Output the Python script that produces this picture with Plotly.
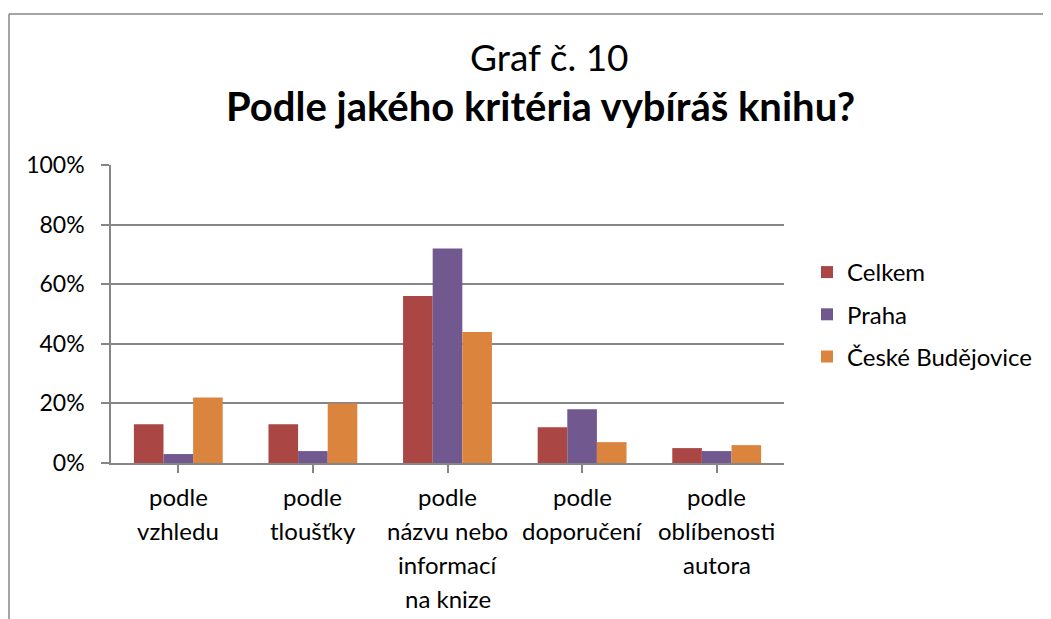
import plotly.graph_objects as go

categories = ["podle\nvzhledu", "podle\ntloušťky", "podle\nnázvu nebo\ninformací\nna knize",
              "podle\ndoporučení", "podle\noblíbenosti\nautora"]
series_names = ["Celkem", "Praha", "České Budějovice"]
celkem = [0.13, 0.13, 0.56, 0.12, 0.05]
praha = [0.03, 0.04, 0.72, 0.18, 0.04]
cb = [0.22, 0.20, 0.44, 0.07, 0.06]
colors = ["#AA4644", "#71588F", "#DB843D"]
y_ticks = [0, 0.2, 0.4, 0.6, 0.8, 1.0]

FONT = "Lato"
OFF = 8  # page body margin
W, H = 1051 - OFF, 619 - OFF
PL, PR, PT, PB = 111, 784, 165, 463  # plot area in page pixels
L, T = PL - OFF, PT - OFF
R, B = W - (PR - OFF), H - (PB - OFF)
pw, ph = PR - PL, PB - PT

def px(xp):
    return (xp - PL) / pw

def py(yp):
    return (PB - yp) / ph

cat_ids = list(range(len(categories)))

fig = go.Figure()
for name, vals, col in zip(series_names, [celkem, praha, cb], colors):
    fig.add_trace(go.Bar(x=cat_ids, y=vals, name=name, legendgroup=name,
                         marker=dict(color=col, line=dict(width=0))))

fig.update_layout(
    width=W, height=H,
    margin=dict(l=L, r=R, t=T, b=B, pad=0),
    paper_bgcolor="white", plot_bgcolor="white",
    barmode="group", bargap=0.34, bargroupgap=0,
    font=dict(family=FONT, size=24, color="black"),
    showlegend=True,
    legend=dict(x=px(807), y=py(250), xanchor="left", yanchor="top",
                font=dict(size=24), tracegroupgap=8, itemwidth=30),
)
fig.update_xaxes(
    range=[-0.5, len(categories) - 0.5],
    tickvals=cat_ids, ticktext=[""] * len(categories), tickson="boundaries",
    showline=True, linecolor="#868686", linewidth=1.5,
    ticks="outside", ticklen=8, tickcolor="#868686", tickwidth=1.5,
    showgrid=False, zeroline=False,
)
fig.update_yaxes(
    range=[0, 1], tickvals=y_ticks, tickformat=".0%",
    showline=True, linecolor="#868686", linewidth=1.5,
    ticks="outside", ticklen=8, tickcolor="#868686", tickwidth=1.5,
    showgrid=True, gridcolor="#868686", gridwidth=1.5, zeroline=False,
    ticklabelstandoff=12, tickfont=dict(size=23),
)

annotations = []
for i, lab in enumerate(categories):
    for j, line in enumerate(lab.split("\n")):
        annotations.append(dict(x=i, y=0, xref="x", yref="paper", text=line, showarrow=False,
                                xanchor="center", yanchor="middle", yshift=-(33 + 34 * j),
                                font=dict(size=24, family=FONT)))
annotations.append(dict(x=px(549), y=py(56), xref="paper", yref="paper", text="Graf č. 10",
                        showarrow=False, xanchor="center", yanchor="middle",
                        font=dict(size=37, family=FONT)))
annotations.append(dict(x=px(540), y=py(106), xref="paper", yref="paper",
                        text="<b>Podle jakého kritéria vybíráš knihu?</b>",
                        showarrow=False, xanchor="center", yanchor="middle",
                        font=dict(size=40, family=FONT)))
fig.update_layout(annotations=annotations)

bx0 = px(9)
by1 = py(14)
fig.add_shape(type="line", xref="paper", yref="paper", x0=bx0, x1=bx0, y0=-2, y1=by1,
              line=dict(color="#868686", width=1.5))
fig.add_shape(type="line", xref="paper", yref="paper", x0=bx0, x1=2, y0=by1, y1=by1,
              line=dict(color="#868686", width=1.5))

fig.write_html("out.html")
